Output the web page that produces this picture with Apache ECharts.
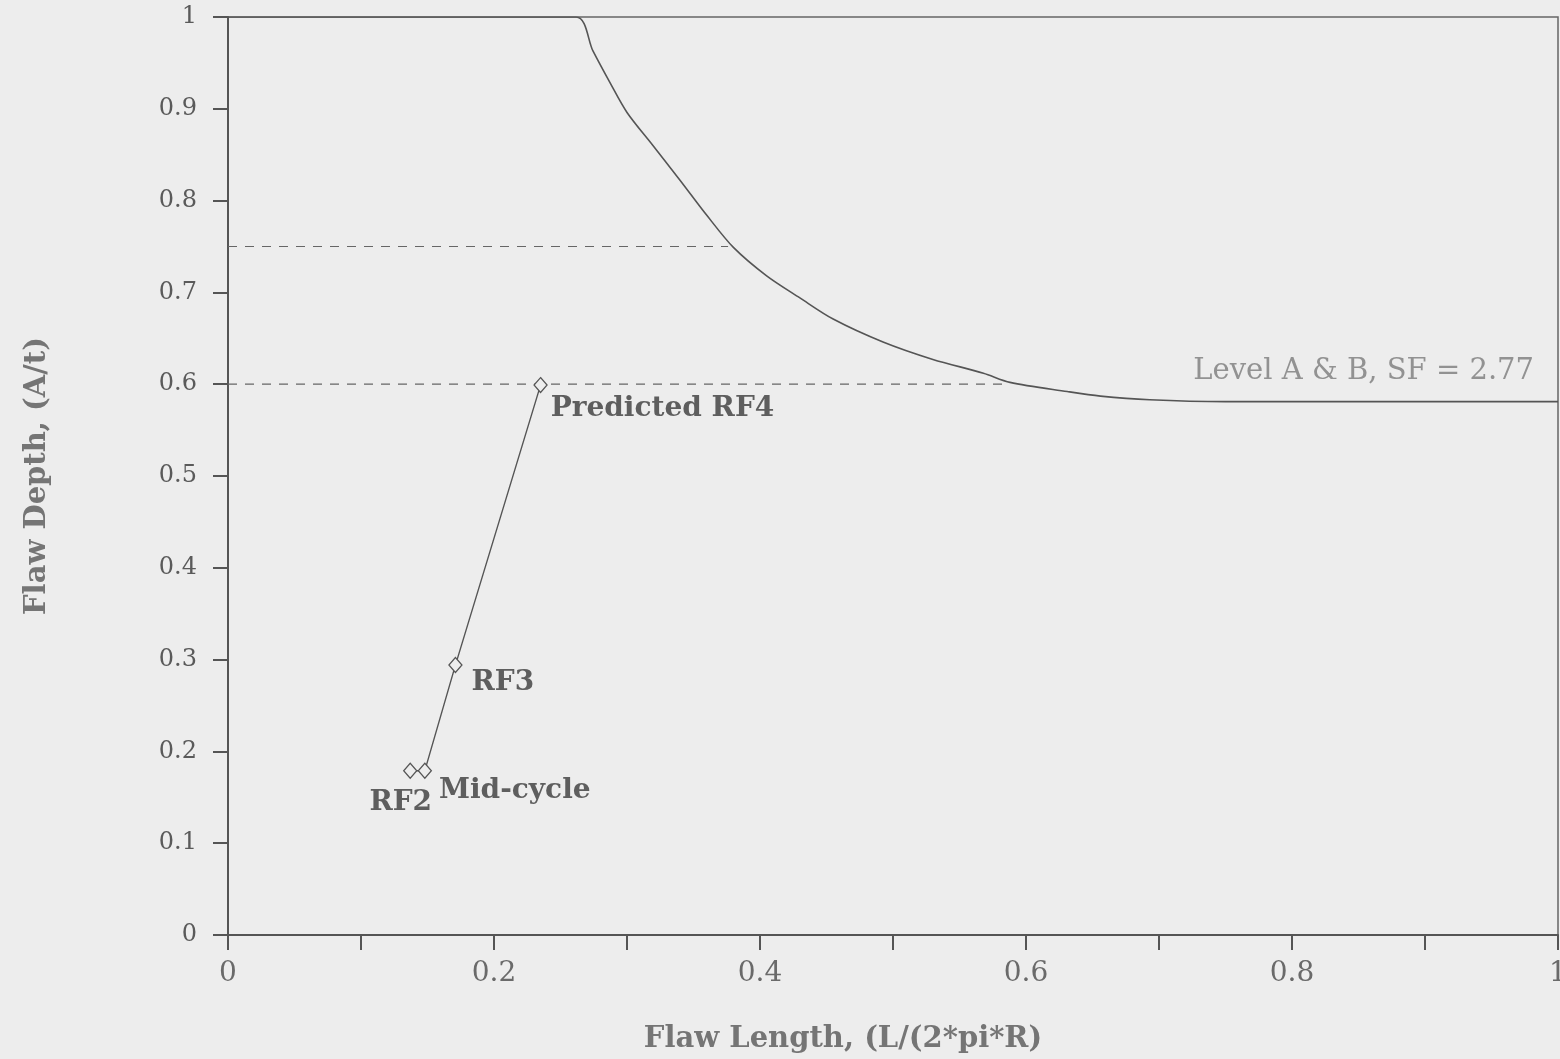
<!DOCTYPE html>
<html>
<head>
<meta charset="utf-8">
<script src="https://cdn.jsdelivr.net/npm/echarts@6/dist/echarts.min.js"></script>
<style>
  html, body { margin: 0; padding: 0; background: #ededed; }
  #flaw { width: 1560px; height: 1059px; }
</style>
</head>
<body>
<div id="flaw"></div>
<script>
// allowable flaw curve (Level A & B, SF = 2.77)
const boundX = [0, 0.2617, 0.2744, 0.287, 0.300, 0.3195, 0.340, 0.360, 0.380, 0.405, 0.430, 0.455, 0.4925, 0.530, 0.568, 0.588, 0.631, 0.656, 0.693, 0.75, 0.85, 1.0]
const boundY = [1, 1, 0.963, 0.929, 0.896, 0.860, 0.822, 0.784, 0.749, 0.718, 0.694, 0.671, 0.646, 0.627, 0.612, 0.602, 0.592, 0.587, 0.583, 0.581, 0.581, 0.581]

// measured / predicted flaw growth
const flawNames = ['RF2', 'Mid-cycle', 'RF3', 'Predicted RF4']
const flawX = [0.137, 0.148, 0.171, 0.235]
const flawY = [0.179, 0.179, 0.294, 0.599]

// dashed reference levels and where they stop
const refLevels = [0.75, 0.6]
const refEnds = [0.376, 0.588]

const xTicks = ['0', '0.2', '0.4', '0.6', '0.8', '1']

const font = 'DejaVu Serif'
const ink = '#5e5e5e'

// label placement for each flaw point
const flawLabelPos = [
  {position: 'left', offset: [34, 32]},
  {position: 'right', offset: [2, 20]},
  {position: 'right', offset: [4, 18]},
  {position: 'right', offset: [-2, 24]}
]

const flawData = flawX.map((x, i) => ({
  value: [x, flawY[i]],
  label: {
    show: true,
    formatter: flawNames[i],
    position: flawLabelPos[i].position,
    offset: flawLabelPos[i].offset,
    fontFamily: font, fontSize: 28, fontWeight: 'bold', color: ink
  }
}))

const refSeries = refLevels.map((lvl, i) => ({
  type: 'line',
  data: [[0, lvl], [refEnds[i], lvl]],
  symbol: 'none',
  lineStyle: {color: '#666', width: 1.2, type: [9, 8]},
  silent: true
}))

const option = {
  backgroundColor: '#ededed',
  animation: false,
  grid: {
    left: 228, right: 2, top: 17, bottom: 124,
    outerBoundsMode: 'none',
    containLabel: false,
    show: true, borderColor: '#666', borderWidth: 1.5
  },
  xAxis: {
    type: 'value', min: 0, max: 1, interval: 0.1,
    name: 'Flaw Length, (L/(2*pi*R)',
    nameLocation: 'middle', nameGap: 90,
    nameTextStyle: {
      fontFamily: font, fontSize: 29, fontWeight: 'bold', color: '#757575',
      padding: [0, 100, 0, 0]
    },
    axisLine: {show: true, onZero: false, lineStyle: {color: '#555', width: 2}},
    axisTick: {show: true, length: 15, lineStyle: {color: '#555', width: 2}},
    axisLabel: {
      margin: 25, fontFamily: font, fontSize: 28, color: '#6a6a6a',
      formatter: v => {
        const k = Math.round(v * 10)
        return k % 2 === 0 ? xTicks[k / 2] : ''
      }
    },
    splitLine: {show: false}
  },
  yAxis: {
    type: 'value', min: 0, max: 1, interval: 0.1,
    name: 'Flaw Depth, (A/t)',
    nameLocation: 'middle', nameGap: 176,
    nameTextStyle: {fontFamily: font, fontSize: 29, fontWeight: 'bold', color: '#757575'},
    axisLine: {show: true, onZero: false, lineStyle: {color: '#555', width: 2}},
    axisTick: {show: true, length: 15, lineStyle: {color: '#555', width: 2}},
    axisLabel: {
      margin: 31, fontFamily: font, fontSize: 24, color: '#5a5a5a',
      formatter: v => String(Math.round(v * 10) / 10)
    },
    splitLine: {show: false}
  },
  series: [
    {
      type: 'line',
      data: boundX.map((x, i) => [x, boundY[i]]),
      symbol: 'none',
      smooth: 0.3,
      lineStyle: {color: '#555', width: 1.6}
    },
    // curve caption, anchored at the curve's right end
    {
      type: 'scatter',
      data: [[boundX[boundX.length - 1], boundY[boundY.length - 1]]],
      symbolSize: 2,
      itemStyle: {color: 'rgba(0,0,0,0)'},
      silent: true,
      label: {
        show: true, position: 'left', distance: 23, offset: [0, -30],
        formatter: 'Level A & B, SF = 2.77',
        fontFamily: font, fontSize: 29, color: '#7a7a7a'
      }
    },
    ...refSeries,
    {
      type: 'line',
      data: flawData,
      symbol: 'diamond',
      symbolSize: [13, 15],
      showAllSymbol: true,
      itemStyle: {color: '#ededed', borderColor: '#555', borderWidth: 1.3},
      lineStyle: {color: '#555', width: 1.4}
    }
  ]
}

const chart = echarts.init(document.getElementById('flaw'), null, {renderer: 'canvas'})
chart.setOption(option)
</script>
</body>
</html>
